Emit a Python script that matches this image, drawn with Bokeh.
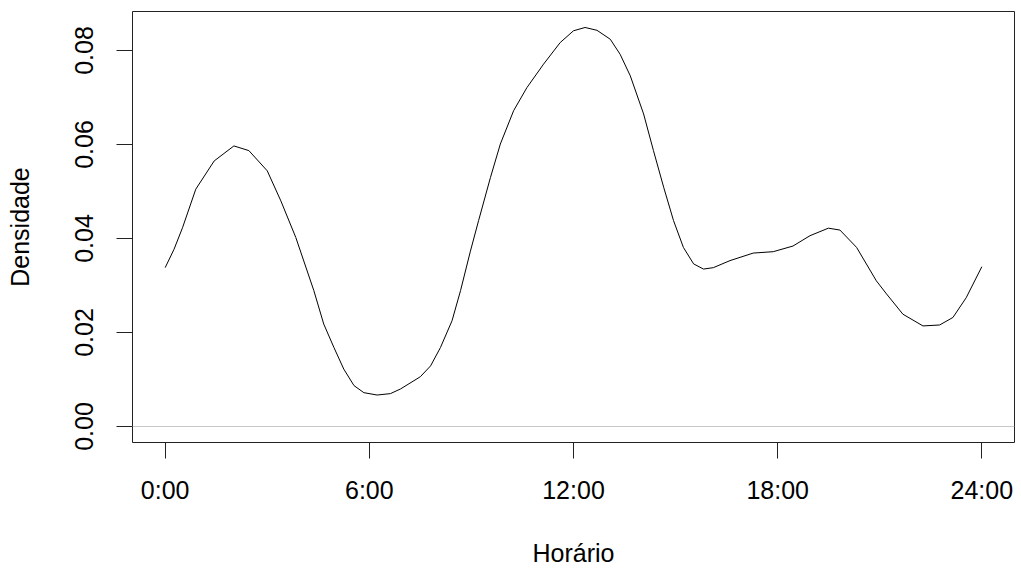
from bokeh.plotting import figure
from bokeh.models import Range1d, FixedTicker, Span, NumeralTickFormatter
from bokeh.embed import file_html
from bokeh.resources import INLINE

# Density curve (hour of day, density)
hours = [0.0, 0.26, 0.51, 0.9, 1.44, 2.02, 2.46, 3.0, 3.4, 3.84, 4.37, 4.66, 4.96,
         5.25, 5.55, 5.84, 6.23, 6.62, 6.92, 7.5, 7.8, 8.09, 8.43, 8.68, 8.97,
         9.21, 9.56, 9.85, 10.24, 10.63, 11.12, 11.61, 12.0, 12.34, 12.69, 13.08,
         13.37, 13.67, 14.06, 14.35, 14.65, 14.94, 15.23, 15.53, 15.82, 16.11,
         16.6, 17.28, 17.87, 18.45, 18.95, 19.49, 19.83, 20.32, 20.9, 21.2,
         21.68, 22.27, 22.76, 23.15, 23.54, 24.0]
density = [0.0338, 0.0377, 0.0423, 0.0505, 0.0565, 0.0597, 0.0587, 0.0544, 0.0480,
           0.0402, 0.0289, 0.0218, 0.0168, 0.0122, 0.0087, 0.0072, 0.0067, 0.0070,
           0.0080, 0.0106, 0.0129, 0.0168, 0.0225, 0.0289, 0.0373, 0.0438, 0.0530,
           0.0601, 0.0672, 0.0721, 0.0771, 0.0817, 0.0842, 0.0849, 0.0843, 0.0824,
           0.0792, 0.0746, 0.0665, 0.0587, 0.0509, 0.0438, 0.0381, 0.0346, 0.0335,
           0.0338, 0.0353, 0.0369, 0.0372, 0.0384, 0.0406, 0.0422, 0.0418, 0.0381,
           0.0310, 0.0282, 0.0239, 0.0214, 0.0216, 0.0232, 0.0274, 0.0340]

x_ticks = [0, 6, 12, 18, 24]
x_tick_labels = ["0:00", "6:00", "12:00", "18:00", "24:00"]
y_ticks = [0.0, 0.02, 0.04, 0.06, 0.08]
x_label = "Horário"
y_label = "Densidade"

FONT = "Liberation Sans"

W, H = 1018, 570
p = figure(width=W, height=H, output_backend="svg", toolbar_location=None,
           x_range=Range1d(-0.96, 24.96), y_range=Range1d(-0.0034, 0.0883),
           min_border_left=132, min_border_top=11, min_border_right=W - 1014,
           min_border_bottom=H - 442)

p.background_fill_color = "white"
p.border_fill_color = "white"
p.outline_line_color = "#222222"
p.outline_line_width = 1
p.grid.visible = False

p.add_layout(Span(location=0, dimension="width", line_color="#c8c8c8", line_width=1.2))
p.line(hours, density, line_color="black", line_width=1)

for ax in (p.xaxis[0], p.yaxis[0]):
    ax.axis_line_color = None
    ax.major_tick_line_color = "#222222"
    ax.major_tick_out = 16
    ax.major_tick_in = 0
    ax.minor_tick_line_color = None
    ax.major_label_text_font = FONT
    ax.major_label_text_font_size = "25px"
    ax.major_label_text_color = "black"
    ax.axis_label_text_font = FONT
    ax.axis_label_text_font_size = "25px"
    ax.axis_label_text_font_style = "normal"
    ax.axis_label_text_color = "black"

p.xaxis.ticker = FixedTicker(ticks=x_ticks)
p.xaxis.major_label_overrides = {t: l for t, l in zip(x_ticks, x_tick_labels)}
p.xaxis.major_label_standoff = 17
p.xaxis.axis_label = x_label
p.xaxis.axis_label_standoff = 32

p.yaxis.ticker = FixedTicker(ticks=y_ticks)
p.yaxis.formatter = NumeralTickFormatter(format="0.00")
p.yaxis.major_label_orientation = "vertical"
p.yaxis.major_label_standoff = 23
p.yaxis.axis_label = y_label
p.yaxis.axis_label_standoff = 39

open("out.html", "w").write(file_html(p, INLINE))
